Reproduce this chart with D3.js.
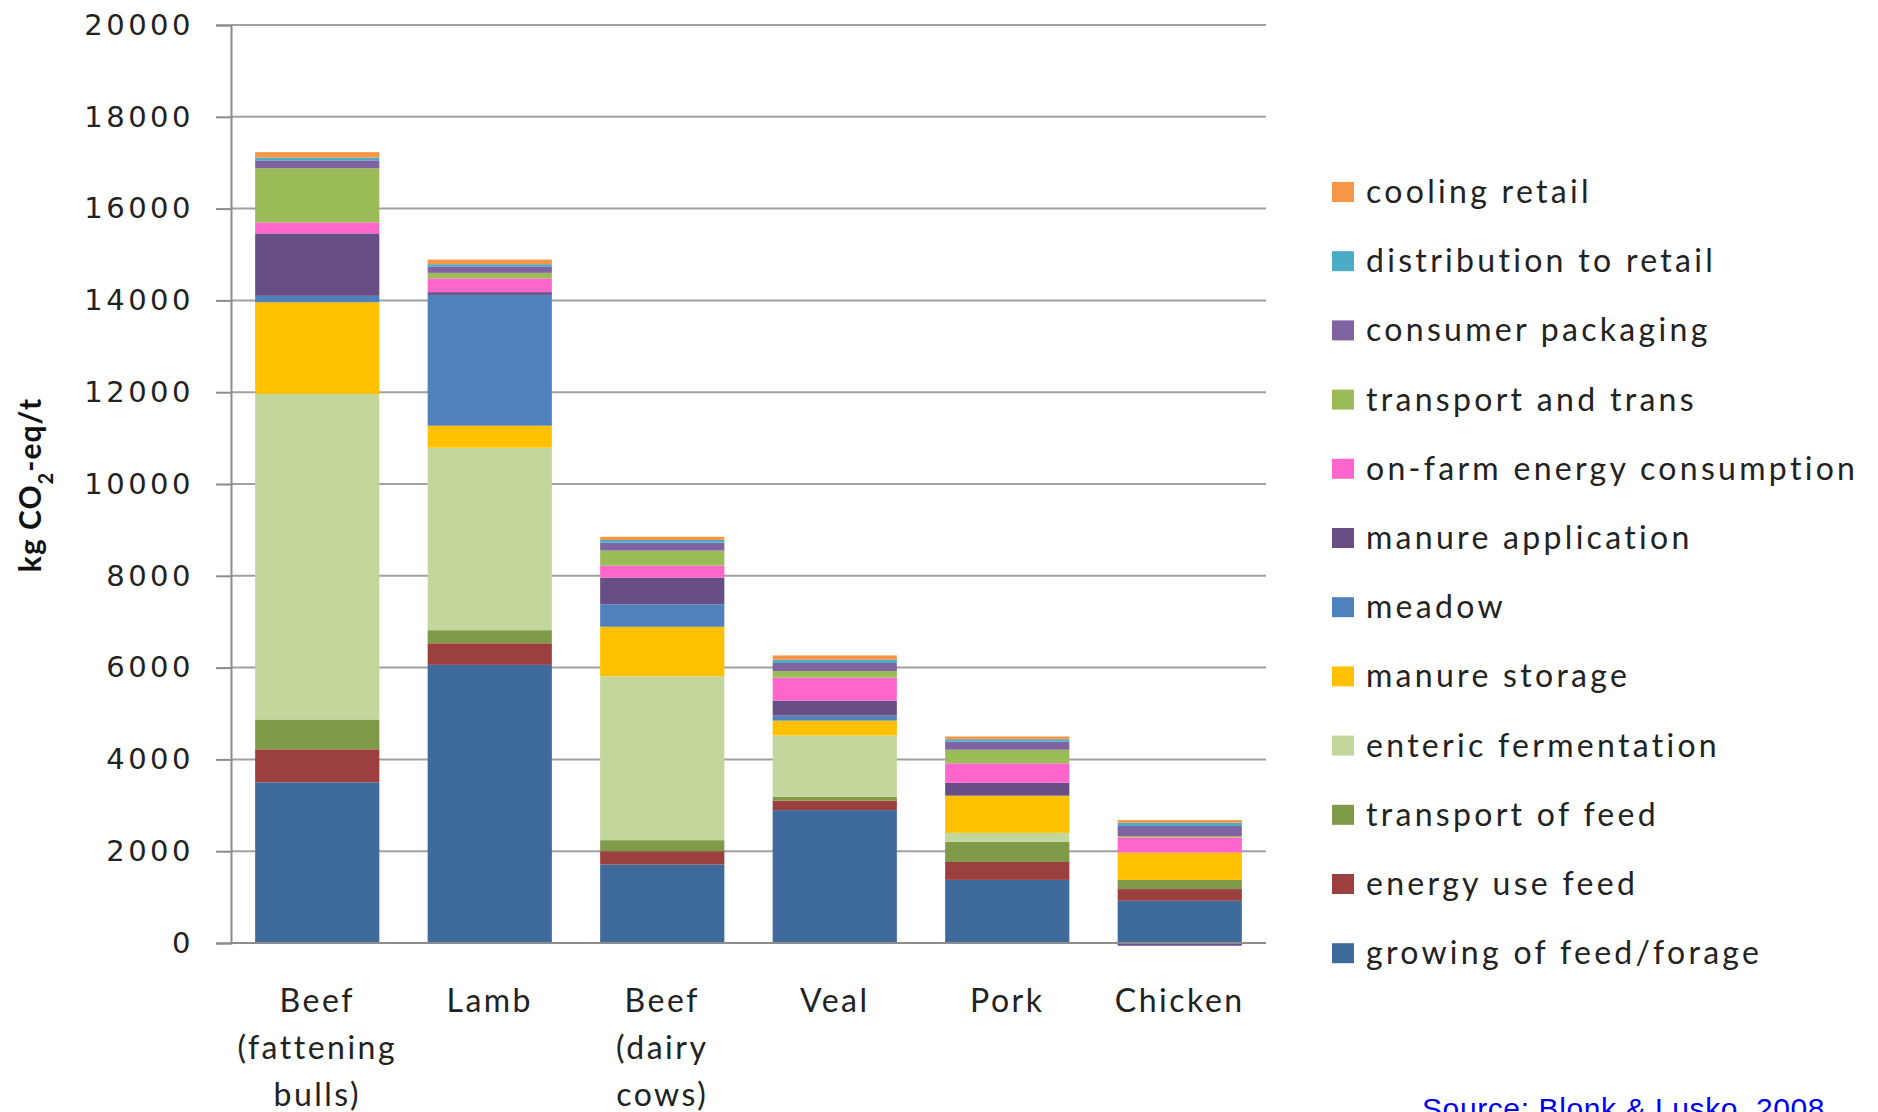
<!DOCTYPE html>
<html>
<head>
<meta charset="utf-8">
<script src="https://cdn.jsdelivr.net/npm/d3@7"></script>
<style>
  html, body { margin: 0; padding: 0; background: #fff; }
  svg { display: block; }
</style>
</head>
<body>
<svg id="chart" width="1878" height="1112"></svg>
<script>
// Emission sources, stacked bottom to top
const series = [
  "growing of feed/forage", "energy use feed", "transport of feed",
  "enteric fermentation", "manure storage", "meadow", "manure application",
  "on-farm energy consumption", "transport and trans", "consumer packaging",
  "distribution to retail", "cooling retail"
];
const colors = [
  "#3F6A9C", "#9B3F3F", "#7F9A48", "#C3D69B", "#FFC000", "#4F81BD",
  "#674F85", "#FF66CC", "#9BBB59", "#8064A2", "#4BACC6", "#F79646"
];

// Product categories (label lines)
const categories = ["beefBulls", "lamb", "beefDairy", "veal", "pork", "chicken"];
const categoryLabels = [
  ["Beef", "(fattening", "bulls)"],
  ["Lamb"],
  ["Beef", "(dairy", "cows)"],
  ["Veal"],
  ["Pork"],
  ["Chicken"]
];

// kg CO2-eq per tonne, one array per category in series order
const beefBulls = [3500, 720, 650, 7090, 2000, 140, 1360, 240, 1180, 170, 60, 120];
const lamb      = [6060, 470, 285, 3975, 480, 2850, 60, 300, 120, 140, 50, 100];
const beefDairy = [1710, 290, 240, 3570, 1080, 490, 580, 260, 330, 170, 60, 70];
const veal      = [2895, 205, 85, 1335, 325, 110, 325, 500, 145, 175, 70, 95];
const pork      = [1375, 390, 440, 195, 810, 0, 280, 425, 295, 175, 55, 60];
const chicken   = [920, 255, 200, 0, 595, 0, -60, 330, 30, 220, 70, 60];
const values = [beefBulls, lamb, beefDairy, veal, pork, chicken];

const yTicks = [0, 2000, 4000, 6000, 8000, 10000, 12000, 14000, 16000, 18000, 20000];

const rows = categories.map((c, i) => {
  const r = { category: c };
  series.forEach((s, j) => { r[s] = values[i][j]; });
  return r;
});

const svg = d3.select("#chart");
const plotLeft = 231, plotRight = 1266;

const x = d3.scaleBand()
  .domain(categories)
  .range([plotLeft, plotRight])
  .paddingInner(0.28)
  .paddingOuter(0.14);

const y = d3.scaleLinear().domain([0, 20000]).range([943, 25]);

// Gridlines
svg.append("g")
  .selectAll("line")
  .data(yTicks)
  .join("line")
  .attr("x1", plotLeft).attr("x2", plotRight)
  .attr("y1", d => y(d)).attr("y2", d => y(d))
  .attr("stroke", "#a0a0a0")
  .attr("stroke-width", 2);

// Stacked bars
const stack = d3.stack().keys(series).offset(d3.stackOffsetDiverging);
const layers = stack(rows);

svg.append("g")
  .selectAll("g")
  .data(layers)
  .join("g")
  .attr("fill", (d, i) => colors[i])
  .selectAll("rect")
  .data(d => d)
  .join("rect")
  .attr("x", d => x(d.data.category))
  .attr("width", x.bandwidth())
  .attr("y", d => y(Math.max(d[0], d[1])))
  .attr("height", d => Math.abs(y(d[0]) - y(d[1])));

// Y axis
const yAxis = d3.axisLeft(y).tickValues(yTicks).tickSize(15).tickPadding(22)
  .tickFormat(d3.format("d"));
const gy = svg.append("g").attr("transform", `translate(${plotLeft},0)`).call(yAxis);
gy.select(".domain").attr("stroke", "#8c8c8c").attr("stroke-width", 2);
gy.selectAll(".tick line").attr("stroke", "#8c8c8c").attr("stroke-width", 2);
gy.selectAll(".tick text")
  .attr("fill", "#222")
  .style("font-family", "'DejaVu Sans', sans-serif")
  .style("font-size", "29px")
  .style("letter-spacing", "3.5px");

// Baseline
svg.append("line")
  .attr("x1", plotLeft).attr("x2", plotRight)
  .attr("y1", y(0)).attr("y2", y(0))
  .attr("stroke", "#8c8c8c").attr("stroke-width", 2);

// Category labels
const catG = svg.append("g")
  .style("font-family", "Lato, sans-serif")
  .style("font-size", "32px")
  .style("letter-spacing", "2.5px")
  .attr("fill", "#222");
categories.forEach((c, i) => {
  const t = catG.append("text")
    .attr("text-anchor", "middle")
    .attr("x", x(c) + x.bandwidth() / 2)
    .attr("y", 1012);
  categoryLabels[i].forEach((line, k) => {
    t.append("tspan")
      .attr("x", x(c) + x.bandwidth() / 2)
      .attr("dy", k === 0 ? 0 : 47)
      .text(line);
  });
});

// Y axis title
const yt = svg.append("text")
  .attr("transform", "translate(41,485) rotate(-90)")
  .attr("text-anchor", "middle")
  .style("font-family", "Lato, sans-serif")
  .style("font-weight", "bold")
  .style("font-size", "30px")
  .style("letter-spacing", "1px")
  .attr("fill", "#111");
yt.append("tspan").text("kg CO");
yt.append("tspan").attr("baseline-shift", "sub").style("font-size", "20px").text("2");
yt.append("tspan").text("-eq/t");

// Legend (top entry is the last series)
const legend = svg.append("g")
  .style("font-family", "Lato, sans-serif")
  .style("font-size", "32px")
  .style("letter-spacing", "3.3px");
const legendItems = series.map((s, i) => ({ name: s, color: colors[i] })).reverse();
const li = legend.selectAll("g")
  .data(legendItems)
  .join("g")
  .attr("transform", (d, i) => `translate(1332,${192 + i * 69.2})`);
li.append("rect")
  .attr("x", 0).attr("y", -10)
  .attr("width", 22).attr("height", 20)
  .attr("fill", d => d.color);
li.append("text")
  .attr("x", 34).attr("y", 11)
  .attr("fill", "#222")
  .text(d => d.name);

// Source note, set low against the bottom edge
svg.append("text")
  .attr("x", 1422).attr("y", 1119)
  .style("font-family", "'Liberation Sans', Arial, sans-serif")
  .style("font-size", "30px")
  .style("letter-spacing", "0.6px")
  .attr("fill", "#0000ee")
  .text("Source: Blonk & Lusko, 2008");
</script>
</body>
</html>
